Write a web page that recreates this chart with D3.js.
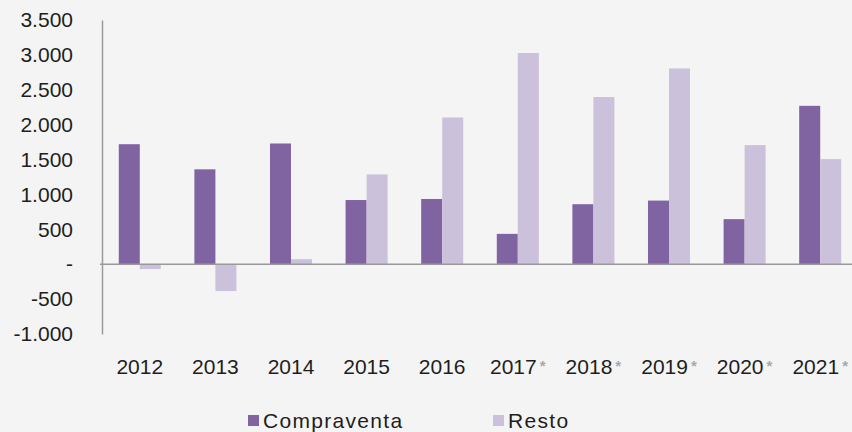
<!DOCTYPE html>
<html>
<head>
<meta charset="utf-8">
<script src="https://cdn.jsdelivr.net/npm/d3@7"></script>
<style>
  html, body { margin: 0; padding: 0; background: #f4f4f4; }
  svg { display: block; }
  text { font-family: "Liberation Sans", Arial, sans-serif; }
</style>
</head>
<body>
<svg id="chart" width="852" height="432"></svg>
<script>
// ---- data ----
const years = ["2012","2013","2014","2015","2016","2017","2018","2019","2020","2021"];
const estimated = [false,false,false,false,false,true,true,true,true,true];
const compraventa = [1720, 1360, 1730, 920, 935, 435, 860, 912, 646, 2270];
const resto = [-70, -385, 72, 1287, 2103, 3027, 2396, 2806, 1707, 1506];
const seriesNames = ["Compraventa", "Resto"];
const seriesColors = ["#8064a2", "#ccc1da"];
const yTicks = [-1000, -500, 0, 500, 1000, 1500, 2000, 2500, 3000, 3500];
const yTickLabels = ["-1.000", "-500", "-", "500", "1.000", "1.500", "2.000", "2.500", "3.000", "3.500"];

// ---- layout ----
const svg = d3.select("#chart");
const plotLeft = 102, plotRight = 858, plotTop = 20, plotBottom = 334;

const x0 = d3.scaleBand().domain(years).range([plotLeft, plotRight])
  .paddingInner(0.444).paddingOuter(0.222);
const x1 = d3.scaleBand().domain(seriesNames).range([0, x0.bandwidth()]);
const y = d3.scaleLinear().domain([-1000, 3500]).range([plotBottom, plotTop]);

const rows = years.map((yr, i) => ({ year: yr, values: [compraventa[i], resto[i]] }));

// bars
const groups = svg.append("g").selectAll("g").data(rows).join("g")
  .attr("transform", d => `translate(${x0(d.year)},0)`);
groups.selectAll("rect")
  .data(d => d.values.map((v, k) => ({ name: seriesNames[k], value: v, k })))
  .join("rect")
  .attr("x", d => x1(d.name))
  .attr("width", x1.bandwidth())
  .attr("y", d => y(Math.max(0, d.value)))
  .attr("height", d => Math.abs(y(d.value) - y(0)))
  .attr("fill", d => seriesColors[d.k]);

// y axis
const yAxis = d3.axisLeft(y).tickValues(yTicks).tickSize(0).tickPadding(29)
  .tickFormat((d, i) => yTickLabels[i]);
const gy = svg.append("g").attr("transform", `translate(${plotLeft},0)`).call(yAxis);
gy.select(".domain").attr("stroke", "#9a9a9a").attr("stroke-width", 1.5);
gy.selectAll("text").attr("font-size", 21).attr("fill", "#1e1e1e")
  .attr("font-family", "Liberation Sans, Arial, sans-serif");

// zero line
svg.append("line")
  .attr("x1", plotLeft - 2).attr("x2", 852)
  .attr("y1", y(0)).attr("y2", y(0))
  .attr("stroke", "#9a9a9a").attr("stroke-width", 1.5);

// x labels
const xl = svg.append("g").selectAll("text").data(years).join("text")
  .attr("x", d => x0(d) + x0.bandwidth() / 2)
  .attr("y", 374)
  .attr("text-anchor", "middle")
  .attr("font-size", 21)
  .attr("fill", "#1e1e1e");
xl.append("tspan").text(d => d);
xl.filter((d, i) => estimated[i]).append("tspan")
  .attr("font-size", 15).attr("font-weight", "bold").attr("fill", "#a8a8a8")
  .attr("dx", 3).attr("dy", -3)
  .text("*");

// legend
const legendItems = [
  { name: seriesNames[0], color: seriesColors[0], x: 248 },
  { name: seriesNames[1], color: seriesColors[1], x: 493 }
];
const lg = svg.append("g").selectAll("g").data(legendItems).join("g")
  .attr("transform", d => `translate(${d.x},0)`);
lg.append("rect").attr("x", 0).attr("y", 415).attr("width", 11).attr("height", 11)
  .attr("fill", d => d.color);
lg.append("text").attr("x", 15).attr("y", 428)
  .attr("font-size", 21).attr("letter-spacing", 1.3).attr("fill", "#1e1e1e")
  .text(d => d.name);
</script>
</body>
</html>
